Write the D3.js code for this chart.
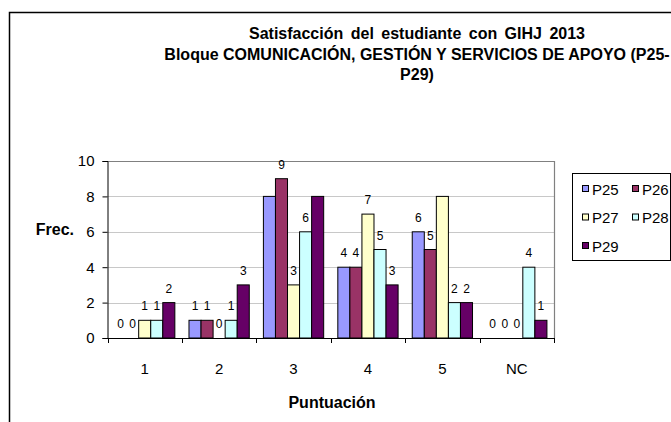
<!DOCTYPE html>
<html>
<head>
<meta charset="utf-8">
<script src="https://cdn.jsdelivr.net/npm/d3@7"></script>
<style>
  body { margin: 0; background: #fff; }
  svg text { font-family: "Liberation Sans", Arial, sans-serif; fill: #000; }
</style>
</head>
<body>
<div id="chart"></div>
<script>
// Satisfaction survey, block P25-P29

var categories = ["1", "2", "3", "4", "5", "NC"];
var seriesNames = ["P25", "P26", "P27", "P28", "P29"];
var p25 = [0, 1, 8, 4, 6, 0];
var p26 = [0, 1, 9, 4, 5, 0];
var p27 = [1, 0, 3, 7, 8, 0];
var p28 = [1, 1, 6, 5, 2, 4];
var p29 = [2, 3, 8, 3, 2, 1];
var yTicks = [0, 2, 4, 6, 8, 10];
var titleLines = [
  "Satisfacción del estudiante con GIHJ 2013",
  "Bloque COMUNICACIÓN, GESTIÓN Y SERVICIOS DE APOYO (P25-",
  "P29)"
];
// the source chart shows no label on bars of value 8
var hiddenLabelValues = [8];

var colors = ["#9999ff", "#993366", "#ffffcc", "#ccffff", "#660066"];
var seriesValues = [p25, p26, p27, p28, p29];

var svgWidth = 671;
var svgHeight = 422;

var plot = { left: 107.5, right: 554, top: 161, bottom: 338 };

var svg = d3.select("#chart")
  .append("svg")
  .attr("width", svgWidth)
  .attr("height", svgHeight);

// outer chart border (cut off at right and bottom like the source)
svg.append("path")
  .attr("d", "M9.5,422 L9.5,12.5 L671,12.5")
  .attr("fill", "none")
  .attr("stroke", "#000")
  .attr("stroke-width", 1.5);

// title
svg.append("g").selectAll("text")
  .data(titleLines)
  .enter()
  .append("text")
  .attr("x", 417)
  .attr("y", (d, i) => 39 + i * 20.5)
  .attr("text-anchor", "middle")
  .attr("font-size", "16px")
  .attr("font-weight", "bold")
  .attr("word-spacing", (d, i) => i === 0 ? "3px" : "0px")
  .text(d => d);

// scales
var x0 = d3.scaleBand()
  .domain(categories)
  .range([plot.left, plot.right])
  .padding(0);

var bw = x0.bandwidth();
var x1 = d3.scaleBand()
  .domain(seriesNames)
  .range([bw * 0.095, bw * 0.905])
  .padding(0);

var y = d3.scaleLinear()
  .domain([0, 10])
  .range([plot.bottom, plot.top]);

// gridlines
svg.append("g").selectAll("line")
  .data(yTicks.filter(d => d > 0 && d < 10))
  .enter()
  .append("line")
  .attr("x1", plot.left)
  .attr("x2", plot.right)
  .attr("y1", d => Math.round(y(d)) + 0.5)
  .attr("y2", d => Math.round(y(d)) + 0.5)
  .attr("stroke", "#c8c8c8")
  .attr("stroke-width", 1.2);

// plot area border, top and right
svg.append("path")
  .attr("d", `M${plot.left},${Math.round(y(10)) + 0.5} L${plot.right + 0.5},${Math.round(y(10)) + 0.5} L${plot.right + 0.5},${plot.bottom}`)
  .attr("fill", "none")
  .attr("stroke", "#808080")
  .attr("stroke-width", 1.2);

// bars
var barData = [];
categories.forEach(function (c, ci) {
  seriesNames.forEach(function (s, si) {
    barData.push({ cat: c, series: s, value: seriesValues[si][ci], color: colors[si] });
  });
});

var bars = svg.append("g").selectAll("g")
  .data(barData)
  .enter()
  .append("g");

bars.filter(d => hiddenLabelValues.indexOf(d.value) < 0)
  .append("text")
  .attr("x", d => x0(d.cat) + x1(d.series) + x1.bandwidth() / 2)
  .attr("y", d => y(d.value) - 10)
  .attr("text-anchor", "middle")
  .attr("font-size", "12px")
  .text(d => d.value);

bars.filter(d => d.value > 0)
  .append("rect")
  .attr("x", d => x0(d.cat) + x1(d.series))
  .attr("y", d => y(d.value))
  .attr("width", x1.bandwidth())
  .attr("height", d => y(0) - y(d.value))
  .attr("fill", d => d.color)
  .attr("stroke", "#000")
  .attr("stroke-width", 1);

// y axis
var leftAxis = d3.axisLeft(y)
  .tickValues(yTicks)
  .tickSize(5)
  .tickPadding(8)
  .tickFormat(d3.format("d"));

var yAxis = svg.append("g")
  .attr("transform", `translate(${plot.left}, 0)`)
  .call(leftAxis)
  .attr("font-family", null);
yAxis.select(".domain").attr("stroke", "#000");
yAxis.selectAll("text").attr("font-size", "15px");

// x axis: labels at centers, ticks at category boundaries
var bottomAxis = d3.axisBottom(x0)
  .tickSize(0)
  .tickPadding(25);

var xAxis = svg.append("g")
  .attr("transform", `translate(0, ${plot.bottom})`)
  .call(bottomAxis)
  .attr("font-family", null);
xAxis.select(".domain").remove();
xAxis.selectAll("text").attr("font-size", "15px");

xAxis.append("line")
  .attr("x1", plot.left)
  .attr("x2", plot.right)
  .attr("y1", 0.5)
  .attr("y2", 0.5)
  .attr("stroke", "#000");

xAxis.selectAll(".bound")
  .data(categories.concat(["end"]))
  .enter()
  .append("line")
  .attr("class", "bound")
  .attr("x1", d => Math.round(d === "end" ? plot.right : x0(d)) + 0.5)
  .attr("x2", d => Math.round(d === "end" ? plot.right : x0(d)) + 0.5)
  .attr("y1", 0)
  .attr("y2", 5)
  .attr("stroke", "#000");

// axis titles
svg.append("text")
  .attr("x", 74)
  .attr("y", 235)
  .attr("text-anchor", "end")
  .attr("font-size", "16px")
  .attr("font-weight", "bold")
  .text("Frec.");

svg.append("text")
  .attr("x", 332)
  .attr("y", 408)
  .attr("text-anchor", "middle")
  .attr("font-size", "16px")
  .attr("font-weight", "bold")
  .text("Puntuación");

// legend
var legend = svg.append("g");
legend.append("rect")
  .attr("x", 572.5)
  .attr("y", 173.5)
  .attr("width", 98)
  .attr("height", 87)
  .attr("fill", "#fff")
  .attr("stroke", "#000");

var legendItems = legend.selectAll(".item")
  .data(seriesNames)
  .enter()
  .append("g")
  .attr("class", "item")
  .attr("transform", (d, i) => `translate(${582 + (i % 2) * 50}, ${189 + Math.floor(i / 2) * 28.5})`);

legendItems.append("rect")
  .attr("x", 0.5)
  .attr("y", -3.5)
  .attr("width", 6)
  .attr("height", 6)
  .attr("fill", (d, i) => colors[i])
  .attr("stroke", "#000");

legendItems.append("text")
  .attr("x", 10)
  .attr("y", 5.5)
  .attr("font-size", "15px")
  .text(d => d);
</script>
</body>
</html>
